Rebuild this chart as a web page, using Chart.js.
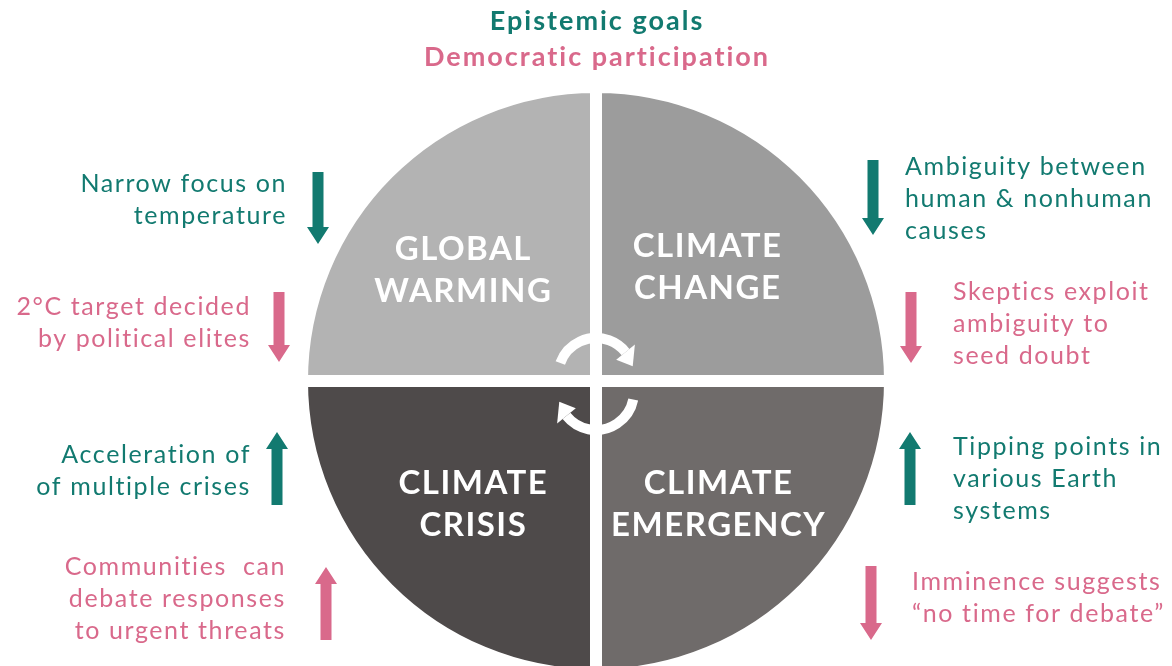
<!DOCTYPE html>
<html>
<head>
<meta charset="utf-8">
<script src="https://cdn.jsdelivr.net/npm/chart.js@4.4.0/dist/chart.umd.min.js"></script>
<style>
  html, body { margin: 0; padding: 0; background: #fff; overflow: hidden; }
  #wrap { width: 1172px; height: 666px; overflow: hidden; }
  canvas { display: block; }
</style>
</head>
<body>
<div id="wrap"><canvas id="chart" width="1172" height="700"></canvas></div>
<script>
// Data (clockwise from 12 o'clock)
const framings = ['CLIMATE CHANGE', 'CLIMATE EMERGENCY', 'CLIMATE CRISIS', 'GLOBAL WARMING'];
const sliceLines = [['CLIMATE', 'CHANGE'], ['CLIMATE', 'EMERGENCY'], ['CLIMATE', 'CRISIS'], ['GLOBAL', 'WARMING']];
const shares = [25, 25, 25, 25];
const sliceColors = ['#9c9c9c', '#6f6b6a', '#4e4a4a', '#b3b3b3'];

const headings = ['Epistemic goals', 'Democratic participation'];

const epistemicNotes = [
  ['Ambiguity between', 'human & nonhuman', 'causes'],
  ['Tipping points in', 'various Earth', 'systems'],
  ['Acceleration of', 'of multiple crises'],
  ['Narrow focus on', 'temperature']
];
const epistemicTrend = ['down', 'up', 'up', 'down'];

const democraticNotes = [
  ['Skeptics exploit', 'ambiguity to', 'seed doubt'],
  ['Imminence suggests', '\u201cno time for debate\u201d'],
  ['Communities  can', 'debate responses', 'to urgent threats'],
  ['2°C target decided', 'by political elites']
];
const democraticTrend = ['down', 'down', 'up', 'down'];

// Layout (pixels)
const TEAL = '#127a70';
const PINK = '#d9698b';
const LINE_H = 32;
const labelNudge = [[-11, 9], [0, 1], [0, 1], [-10, 12]];
const epistemicPlace = [
  { x: 905, y: 175, align: 'left', ax: 873, top: 160, bottom: 235 },
  { x: 953, y: 455, align: 'left', ax: 910, top: 432, bottom: 505 },
  { x: 251, y: 463, align: 'right', ax: 277, top: 432, bottom: 505 },
  { x: 287, y: 192, align: 'right', ax: 318, top: 172, bottom: 244 }
];
const democraticPlace = [
  { x: 953, y: 300, align: 'left', ax: 911, top: 292, bottom: 363 },
  { x: 912, y: 590, align: 'left', ax: 871, top: 566, bottom: 640 },
  { x: 286, y: 575, align: 'right', ax: 326, top: 567, bottom: 640 },
  { x: 251, y: 315, align: 'right', ax: 279, top: 292, bottom: 362 }
];

function drawArrow(ctx, x, top, bottom, dir, color) {
  const shaft = 11, head = 22, headLen = 17;
  ctx.fillStyle = color;
  ctx.beginPath();
  if (dir === 'down') {
    ctx.rect(x - shaft / 2, top, shaft, bottom - top - headLen);
    ctx.moveTo(x - head / 2, bottom - headLen);
    ctx.lineTo(x + head / 2, bottom - headLen);
    ctx.lineTo(x, bottom);
  } else {
    ctx.rect(x - shaft / 2, top + headLen, shaft, bottom - top - headLen);
    ctx.moveTo(x - head / 2, top + headLen);
    ctx.lineTo(x + head / 2, top + headLen);
    ctx.lineTo(x, top);
  }
  ctx.closePath();
  ctx.fill();
}

function drawNote(ctx, lines, place, dir, color) {
  ctx.fillStyle = color;
  ctx.font = '25px Lato';
  ctx.letterSpacing = '1.6px';
  ctx.textAlign = place.align;
  ctx.textBaseline = 'alphabetic';
  lines.forEach((t, i) => ctx.fillText(t, place.x, place.y + i * LINE_H));
  drawArrow(ctx, place.ax, place.top, place.bottom, dir, color);
}

// white arc with an arrowhead at its clockwise end
function cycleArrow(ctx, cx, cy, r, a0, a1) {
  ctx.strokeStyle = '#fff';
  ctx.lineWidth = 10;
  ctx.lineCap = 'butt';
  ctx.beginPath();
  ctx.arc(cx, cy, r, a0, a1, false);
  ctx.stroke();
  const tip = a1 + 0.42;
  ctx.fillStyle = '#fff';
  ctx.beginPath();
  ctx.moveTo(cx + (r + 12) * Math.cos(a1), cy + (r + 12) * Math.sin(a1));
  ctx.lineTo(cx + (r - 12) * Math.cos(a1), cy + (r - 12) * Math.sin(a1));
  ctx.lineTo(cx + r * Math.cos(tip), cy + r * Math.sin(tip));
  ctx.closePath();
  ctx.fill();
}

const decorPlugin = {
  id: 'decor',
  afterDraw(chart) {
    const ctx = chart.ctx;
    const arcs = chart.getDatasetMeta(0).data;
    ctx.save();

    // slice labels
    ctx.fillStyle = '#fff';
    ctx.font = 'bold 33px Lato';
    ctx.letterSpacing = '1.5px';
    ctx.textAlign = 'center';
    ctx.textBaseline = 'middle';
    arcs.forEach((arc, i) => {
      const p = arc.getProps(['x', 'y', 'startAngle', 'endAngle', 'outerRadius'], true);
      const mid = (p.startAngle + p.endAngle) / 2;
      const r = p.outerRadius * 0.59;
      const lx = p.x + Math.cos(mid) * r + labelNudge[i][0];
      const ly = p.y + Math.sin(mid) * r + labelNudge[i][1];
      const lines = sliceLines[i];
      lines.forEach((t, j) => ctx.fillText(t, lx, ly + (j - (lines.length - 1) / 2) * 42));
    });

    // centre cycle arrows
    const c = arcs[0].getProps(['x', 'y'], true);
    cycleArrow(ctx, c.x, c.y - 5, 38, Math.PI + 0.35, 2 * Math.PI - 0.68);
    cycleArrow(ctx, c.x, c.y + 11, 38, 0.2, Math.PI - 0.68);

    // headings
    ctx.textAlign = 'center';
    ctx.textBaseline = 'alphabetic';
    ctx.font = 'bold 27px Lato';
    ctx.letterSpacing = '2px';
    ctx.fillStyle = TEAL;
    ctx.fillText(headings[0], 597, 30);
    ctx.fillStyle = PINK;
    ctx.fillText(headings[1], 597, 66);

    // side notes
    epistemicNotes.forEach((lines, i) => drawNote(ctx, lines, epistemicPlace[i], epistemicTrend[i], TEAL));
    democraticNotes.forEach((lines, i) => drawNote(ctx, lines, democraticPlace[i], democraticTrend[i], PINK));

    ctx.restore();
  }
};

new Chart(document.getElementById('chart').getContext('2d'), {
  type: 'pie',
  data: {
    labels: framings,
    datasets: [{
      data: shares,
      backgroundColor: sliceColors,
      borderColor: '#fff',
      borderWidth: 12
    }]
  },
  options: {
    responsive: false,
    animation: false,
    layout: { padding: { top: 81, bottom: 19, left: 20, right: 0 } },
    plugins: {
      legend: { display: false },
      tooltip: { enabled: false }
    }
  },
  plugins: [decorPlugin]
});
</script>
</body>
</html>
